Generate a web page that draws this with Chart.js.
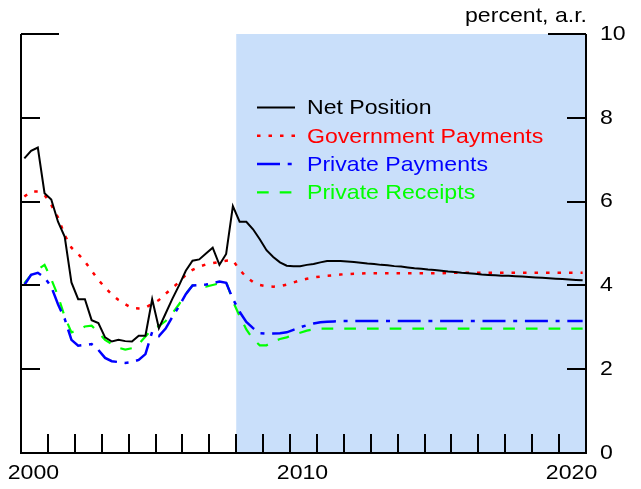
<!DOCTYPE html>
<html>
<head>
<meta charset="utf-8">
<script src="https://cdn.jsdelivr.net/npm/chart.js@4.4.1/dist/chart.umd.min.js"></script>
<style>
html,body{margin:0;padding:0;background:#fff;}
#wrap{width:641px;height:489px;position:relative;}
</style>
</head>
<body>
<div id="wrap"><canvas id="c" width="641" height="489"></canvas></div>
<script>
// ---- data (quarterly, 2000Q1 .. 2020Q4, plotted at mid-quarter) ----
const startYear = 2000;
const endYear = 2021;
const quarters = [];
for (let y = 2000; y <= 2020; y++) { for (let q = 0; q < 4; q++) quarters.push(y + 0.125 + 0.25 * q); }

const netPosition = [
  7.03,7.21,7.29,6.20, 6.05,5.52,5.16,4.07, 3.67,3.67,3.17,3.10, 2.76,2.66,2.70,2.67,
  2.66,2.80,2.80,3.67, 2.98,3.33,3.68,4.00, 4.35,4.59,4.62,4.76, 4.90,4.49,4.75,5.89,
  5.52,5.52,5.34,5.10, 4.84,4.68,4.55,4.47, 4.46,4.46,4.49,4.51, 4.55,4.58,4.58,4.58,
  4.57,4.56,4.54,4.52, 4.51,4.49,4.48,4.46, 4.45,4.43,4.41,4.40, 4.38,4.37,4.35,4.33,
  4.32,4.30,4.29,4.28, 4.26,4.25,4.24,4.23, 4.23,4.22,4.21,4.20, 4.19,4.18,4.17,4.16,
  4.15,4.14,4.13,4.12
];
const governmentPayments = [
  6.12,6.24,6.24,6.16, 5.92,5.62,5.20,4.90, 4.75,4.57,4.35,4.13, 3.95,3.78,3.65,3.55,
  3.46,3.45,3.47,3.56, 3.65,3.80,3.94,4.08, 4.25,4.37,4.45,4.50, 4.53,4.56,4.59,4.60,
  4.37,4.20,4.08,4.01, 3.98,3.97,3.98,4.02, 4.07,4.12,4.16,4.19, 4.21,4.23,4.24,4.26,
  4.27,4.28,4.28,4.29, 4.29,4.29,4.29,4.29, 4.29,4.29,4.29,4.29, 4.29,4.29,4.29,4.30,
  4.30,4.30,4.30,4.30, 4.30,4.30,4.30,4.30, 4.30,4.30,4.30,4.30, 4.30,4.30,4.30,4.30,
  4.30,4.30,4.30,4.30
];
const privatePayments = [
  4.01,4.25,4.30,4.19, 3.97,3.55,3.20,2.70, 2.56,2.58,2.60,2.46, 2.27,2.19,2.17,2.15,
  2.17,2.22,2.36,2.89, 2.79,2.97,3.25,3.50, 3.79,4.00,4.01,4.02, 4.05,4.09,4.06,3.68,
  3.37,3.13,2.98,2.86, 2.85,2.85,2.86,2.88, 2.94,3.00,3.05,3.09, 3.12,3.13,3.14,3.15,
  3.15,3.15,3.15,3.15, 3.15,3.15,3.15,3.15, 3.15,3.15,3.15,3.15, 3.15,3.15,3.15,3.15,
  3.15,3.15,3.15,3.15, 3.15,3.15,3.15,3.15, 3.15,3.15,3.15,3.15, 3.15,3.15,3.15,3.15,
  3.15,3.15,3.15,3.15
];
const privateReceipts = [
  4.05,4.25,4.38,4.49, 4.15,3.75,3.25,2.88, 2.93,3.02,3.04,2.88, 2.70,2.60,2.51,2.47,
  2.50,2.60,2.78,2.96, 3.03,3.15,3.33,3.55, 3.80,4.00,3.99,3.97, 4.01,4.05,4.09,3.62,
  3.27,2.95,2.72,2.57, 2.57,2.66,2.72,2.76, 2.82,2.87,2.92,2.95, 2.97,2.97,2.97,2.97,
  2.97,2.97,2.97,2.97, 2.97,2.97,2.97,2.97, 2.97,2.97,2.97,2.97, 2.97,2.97,2.97,2.97,
  2.97,2.97,2.97,2.97, 2.97,2.97,2.97,2.97, 2.97,2.97,2.97,2.97, 2.97,2.97,2.97,2.97,
  2.97,2.97,2.97,2.97
];
const seriesNames = ["Net Position", "Government Payments", "Private Payments", "Private Receipts"];
const yTicks = [0, 2, 4, 6, 8, 10];
const xLabels = ["2000", "2010", "2020"];
const shadeStart = 2008;
const unitLabel = "percent, a.r.";

// ---- styles ----
const colors = ["#000000", "#ff0000", "#0000ff", "#00ff00"];
const dashes = [[], [3.5, 8], [23, 7.7, 4, 7.7], [11.7, 11]];
const widths = [2, 2.5, 2.5, 2.2];
const FONT = '"Liberation Sans", Arial, Helvetica, sans-serif';
const SX = 1.1; // horizontal text stretch seen in the reference

const pts = arr => arr.map((v, i) => ({ x: quarters[i], y: v }));
const seriesData = [netPosition, governmentPayments, privatePayments, privateReceipts];

function text(ctx, s, x, y, align) {
  const w = ctx.measureText(s).width * SX;
  let x0 = x;
  if (align === 'center') x0 = x - w / 2;
  else if (align === 'right') x0 = x - w;
  ctx.save();
  ctx.textAlign = 'left';
  ctx.translate(x0, y);
  ctx.scale(SX, 1);
  ctx.fillText(s, 0, 0);
  ctx.restore();
}

const decor = {
  id: 'decor',
  beforeDatasetsDraw(chart) {
    const { ctx, chartArea: a, scales: { x } } = chart;
    ctx.save();
    ctx.fillStyle = '#c9dffa';
    const xs = x.getPixelForValue(shadeStart);
    ctx.fillRect(xs, a.top, a.right - xs, a.bottom - a.top);
    ctx.restore();
  },
  afterDraw(chart) {
    const { ctx, chartArea: a, scales: { x, y } } = chart;
    ctx.save();
    ctx.strokeStyle = '#000';
    ctx.lineWidth = 2;
    ctx.lineCap = 'butt';
    ctx.beginPath();
    ctx.moveTo(a.left, a.top); ctx.lineTo(a.left, a.bottom); ctx.lineTo(a.right, a.bottom); ctx.lineTo(a.right, a.top);
    ctx.stroke();
    yTicks.forEach(v => {
      if (v === 0) return;
      const py = Math.round(y.getPixelForValue(v));
      const len = v === 10 ? 38 : 19;
      ctx.beginPath();
      ctx.moveTo(a.left, py); ctx.lineTo(a.left + len, py);
      ctx.moveTo(a.right, py); ctx.lineTo(a.right - len, py);
      ctx.stroke();
    });
    for (let yr = startYear + 1; yr < endYear; yr++) {
      const px = Math.round(x.getPixelForValue(yr));
      ctx.beginPath();
      ctx.moveTo(px, a.bottom); ctx.lineTo(px, a.bottom - 19);
      ctx.stroke();
    }
    ctx.fillStyle = '#000';
    ctx.font = '21px ' + FONT;
    ctx.textBaseline = 'middle';
    yTicks.forEach(v => {
      text(ctx, String(v), a.right + 14, y.getPixelForValue(v), 'left');
    });
    xLabels.forEach(l => {
      text(ctx, l, x.getPixelForValue(parseInt(l) + 0.5) - 1, a.bottom + 20, 'center');
    });
    ctx.textBaseline = 'alphabetic';
    text(ctx, unitLabel, a.right + 1, 22, 'right');
    ctx.textBaseline = 'middle';
    const lx0 = 257, lx1 = 295, tx = 307, ly0 = 107.5, dy = 28.3;
    seriesNames.forEach((n, i) => {
      const ly = ly0 + i * dy;
      ctx.save();
      ctx.strokeStyle = colors[i];
      ctx.lineWidth = widths[i];
      ctx.setLineDash(dashes[i]);
      ctx.beginPath(); ctx.moveTo(lx0, ly); ctx.lineTo(lx1, ly); ctx.stroke();
      ctx.restore();
      ctx.fillStyle = colors[i];
      text(ctx, n, tx, ly + 1, 'left');
    });
    ctx.restore();
  }
};

new Chart(document.getElementById('c'), {
  type: 'line',
  data: {
    datasets: seriesData.map((d, i) => ({
      label: seriesNames[i],
      data: pts(d),
      borderColor: colors[i],
      borderWidth: widths[i],
      borderDash: dashes[i],
      pointRadius: 0,
      tension: 0,
      fill: false
    }))
  },
  options: {
    responsive: false,
    animation: false,
    devicePixelRatio: 1,
    layout: { padding: { left: 21, right: 55, top: 34, bottom: 36 } },
    plugins: { legend: { display: false }, tooltip: { enabled: false } },
    scales: {
      x: { type: 'linear', min: startYear, max: endYear, display: false },
      y: { type: 'linear', min: 0, max: 10, display: false }
    }
  },
  plugins: [decor]
});
</script>
</body>
</html>
